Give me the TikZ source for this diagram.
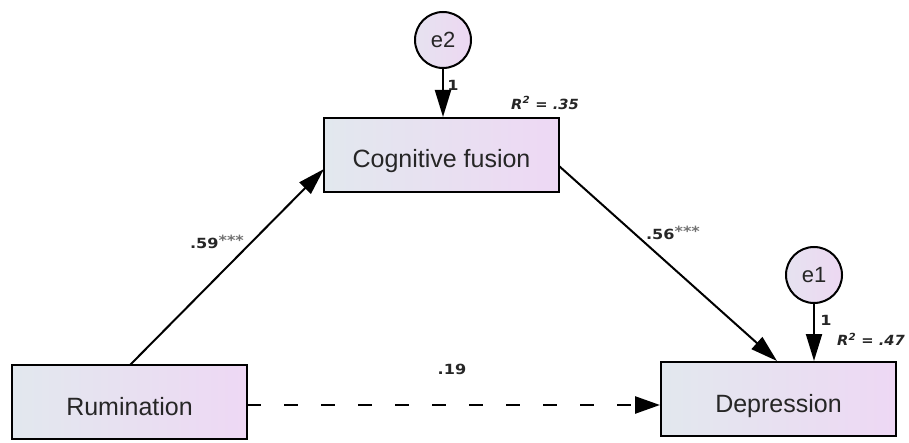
\documentclass[tikz,border=0pt]{standalone}
\usepackage{fontspec}
\setmainfont{Liberation Sans}
\newfontfamily\labfont[FakeStretch=1.15]{DejaVu Sans}
\newfontfamily\rfont[FakeStretch=1.05]{DejaVu Sans}
\usetikzlibrary{arrows.meta}
\definecolor{boxL}{HTML}{E2E8EE}
\definecolor{boxR}{HTML}{EED8F4}
\definecolor{circL}{HTML}{E6E2F0}
\definecolor{circR}{HTML}{EDD8F2}
\tikzset{
  varbox/.style={draw=black, line width=2pt, left color=boxL, right color=boxR,
    minimum width=235pt, minimum height=74pt, inner sep=0pt,
    text height=26pt, text depth=0pt,
    font=\fontsize{25}{28}\selectfont, text=black!85},
  errc/.style={draw=black, line width=2pt, circle, left color=circL, right color=circR,
    minimum size=56pt, inner sep=0pt, font=\fontsize{22}{24}\selectfont, text=black!85},
  path/.style={line width=2pt, -{Triangle[length=27pt, width=16pt]}},
  dpath/.style={line width=2.6pt, dash pattern=on 14pt off 23pt, -{Triangle[length=25pt, width=17pt]}},
  lab/.style={font=\labfont\bfseries\fontsize{14}{16}\selectfont, inner sep=1pt, text=black!85},
  rlab/.style={font=\rfont\bfseries\itshape\fontsize{14}{16}\selectfont, inner sep=1pt, text=black!85},
}
\newcommand{\stars}{\raisebox{2.5pt}{\color{black!55}***}}
\begin{document}
\begin{tikzpicture}[x=1pt, y=-1pt]
\useasboundingbox (0,0) rectangle (909,443);
\node[varbox] (cf) at (441.5,155) {Cognitive fusion};
\node[varbox] (dep) at (778.5,399) {Depression};
\node[varbox] (rum) at (129.5,402) {Rumination};
\node[errc] (e2) at (443,40) {e2};
\node[errc] (e1) at (814,275) {e1};
\draw[path] (e2.south) -- (e2.south |- cf.north);
\draw[path] (e1.south) -- (e1.south |- dep.north);
\coordinate (rumtop) at (130,365);
\coordinate (cfleft) at (324,169);
\coordinate (cfright) at (559,166);
\coordinate (deptop) at (777,361);
\draw[path] (rumtop) -- (cfleft);
\draw[path] (cfright) -- (deptop);
\coordinate (rumright) at (247,405);
\coordinate (depleft) at (660,405);
\draw[dpath] (rumright) -- (depleft);
\node[lab] (l1a) at (453,85) {1};
\node[lab] (l1b) at (826,320) {1};
\node[rlab] (r35) at (545,103) {R\textsuperscript{2} = .35};
\node[rlab] (r47) at (871,339) {R\textsuperscript{2} = .47};
\node[lab] (p59) at (217,242) {.59\stars};
\node[lab] (p56) at (673,233) {.56\stars};
\node[lab] (p19) at (452,369) {.19};
\end{tikzpicture}
\end{document}
